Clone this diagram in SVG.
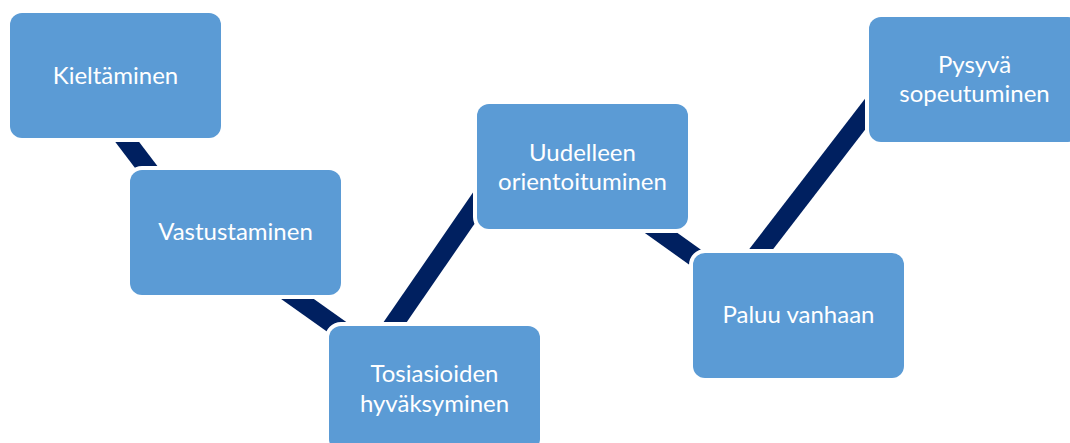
<svg xmlns="http://www.w3.org/2000/svg" width="1070" height="443" viewBox="0 0 1070 443">
<style>
.box{fill:#5B9BD5;stroke:#FFFFFF;stroke-width:8;paint-order:stroke}
.lbl{font-family:Lato,"Open Sans","Liberation Sans",sans-serif;font-size:24px;fill:#FFFFFF;text-anchor:middle}
.con{stroke:#002060;stroke-width:19;stroke-linecap:butt;fill:none}
</style>
<rect width="1070" height="443" fill="#FFFFFF"/>
<g id="connectors">
<line class="con" x1="95.3" y1="100" x2="171.3" y2="200"/>
<line class="con" x1="242.4" y1="260" x2="383.4" y2="360"/>
<line class="con" x1="369" y1="360" x2="486.3" y2="190"/>
<line class="con" x1="615" y1="200" x2="741" y2="290"/>
<line class="con" x1="729.7" y1="290" x2="876" y2="100"/>
</g>
<g id="n1">
<rect class="box" x="10" y="13" width="211" height="125" rx="12"/>
<text class="lbl" x="115.5" y="83.5">Kieltäminen</text>
</g>
<g id="n2">
<rect class="box" x="130" y="170" width="211" height="125" rx="12"/>
<text class="lbl" x="235.5" y="240">Vastustaminen</text>
</g>
<g id="n3">
<rect class="box" x="329" y="326" width="211" height="125" rx="12"/>
<text class="lbl" x="434.5" y="381.7">Tosiasioiden</text>
<text class="lbl" x="434.5" y="411.7">hyväksyminen</text>
</g>
<g id="n4">
<rect class="box" x="477" y="104" width="211" height="125" rx="12"/>
<text class="lbl" x="582.5" y="160.7">Uudelleen</text>
<text class="lbl" x="582.5" y="190">orientoituminen</text>
</g>
<g id="n5">
<rect class="box" x="693" y="253" width="211" height="125" rx="12"/>
<text class="lbl" x="798.5" y="323.3">Paluu vanhaan</text>
</g>
<g id="n6">
<rect class="box" x="869" y="17" width="211" height="125" rx="12"/>
<text class="lbl" x="974.5" y="72.7">Pysyvä</text>
<text class="lbl" x="974.5" y="101.7">sopeutuminen</text>
</g>
</svg>
